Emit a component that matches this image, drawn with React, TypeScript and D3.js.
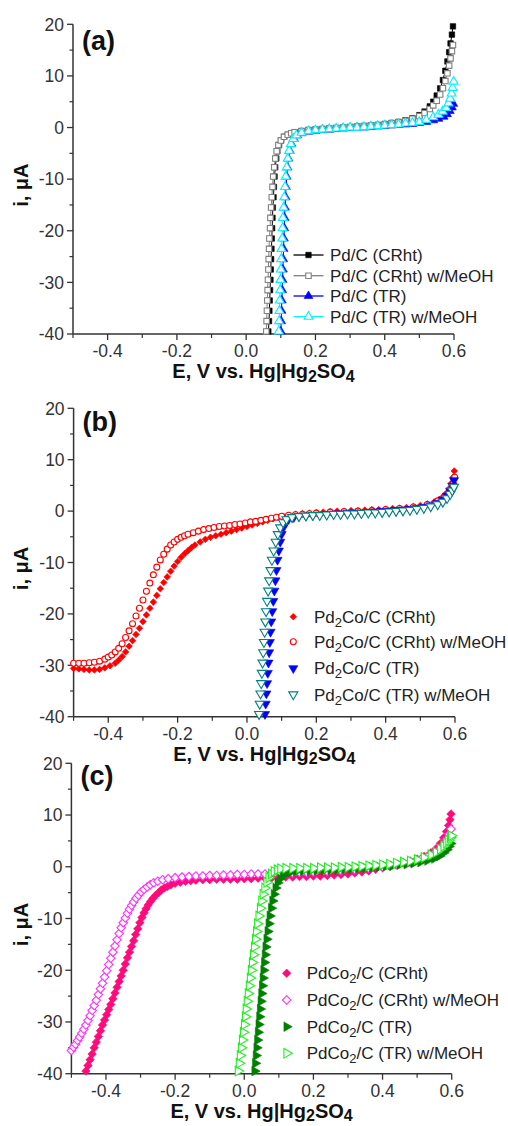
import React from 'react';
import * as d3 from 'd3';

type Pt = [number, number];

// ---------- axis ticks ----------
const xMajorTicks = [-0.4, -0.2, 0.0, 0.2, 0.4, 0.6];
const xTickLabels = ['-0.4', '-0.2', '0.0', '0.2', '0.4', '0.6'];
const xMinorTicks = [-0.5, -0.3, -0.1, 0.1, 0.3, 0.5];
const yMajorTicks = [20, 10, 0, -10, -20, -30, -40];
const yTickLabels = ['20', '10', '0', '-10', '-20', '-30', '-40'];
const yMinorTicks = [15, 5, -5, -15, -25, -35];

// ---------- panel (a) : Pd/C ----------
const pdC_CRht: Pt[] = [[0.064,-39.5],[0.066,-37.5],[0.067,-35.5],[0.068,-33.5],[0.069,-31.5],[0.070,-29.5],[0.071,-27.5],[0.072,-25.5],[0.073,-23.5],[0.074,-21.5],[0.075,-19.5],[0.076,-17.5],[0.077,-15.5],[0.079,-13.5],[0.080,-11.5],[0.082,-9.5],[0.084,-7.7],[0.087,-6.0],[0.090,-4.6],[0.095,-3.4],[0.101,-2.5],[0.110,-1.8],[0.12,-1.4],[0.13,-1.1],[0.14,-0.9],[0.16,-0.7],[0.18,-0.5],[0.20,-0.4],[0.22,-0.3],[0.24,-0.2],[0.26,-0.1],[0.28,0.0],[0.30,0.1],[0.32,0.2],[0.34,0.3],[0.36,0.4],[0.38,0.5],[0.40,0.7],[0.42,0.9],[0.44,1.1],[0.46,1.4],[0.48,1.8],[0.50,2.4],[0.515,3.1],[0.53,4.1],[0.54,5.0],[0.55,6.2],[0.56,7.6],[0.568,9.2],[0.575,11.0],[0.581,12.8],[0.586,14.6],[0.590,16.3],[0.594,18.0],[0.597,19.6]];
const pdC_CRht_MeOH: Pt[] = [[0.058,-39.5],[0.059,-37.5],[0.060,-35.5],[0.061,-33.5],[0.062,-31.5],[0.063,-29.5],[0.064,-27.5],[0.065,-25.5],[0.066,-23.5],[0.067,-21.5],[0.069,-19.5],[0.070,-17.5],[0.072,-15.5],[0.074,-13.5],[0.076,-11.5],[0.078,-9.5],[0.081,-7.7],[0.084,-6.0],[0.088,-4.6],[0.093,-3.4],[0.100,-2.5],[0.109,-1.8],[0.12,-1.4],[0.13,-1.1],[0.14,-0.9],[0.16,-0.7],[0.18,-0.5],[0.20,-0.4],[0.22,-0.3],[0.24,-0.2],[0.26,-0.1],[0.28,0.0],[0.30,0.1],[0.32,0.2],[0.34,0.3],[0.36,0.4],[0.38,0.5],[0.40,0.6],[0.42,0.8],[0.44,1.0],[0.46,1.3],[0.48,1.7],[0.50,2.2],[0.515,2.8],[0.53,3.6],[0.54,4.3],[0.55,5.2],[0.56,6.4],[0.568,7.6],[0.575,9.0],[0.581,10.5],[0.586,12.0],[0.590,13.4],[0.594,14.8],[0.597,16.0]];
const pdC_TR: Pt[] = [[0.100,-39.5],[0.101,-37.5],[0.102,-35.5],[0.103,-33.5],[0.104,-31.5],[0.105,-29.5],[0.106,-27.5],[0.107,-25.5],[0.108,-23.5],[0.109,-21.5],[0.110,-19.5],[0.111,-17.5],[0.112,-15.5],[0.114,-13.5],[0.115,-11.5],[0.117,-9.5],[0.119,-7.7],[0.122,-6.0],[0.126,-4.5],[0.131,-3.2],[0.138,-2.2],[0.147,-1.5],[0.16,-1.1],[0.18,-0.8],[0.20,-0.6],[0.22,-0.5],[0.24,-0.4],[0.26,-0.3],[0.28,-0.2],[0.30,-0.1],[0.32,0.0],[0.34,0.0],[0.36,0.1],[0.38,0.2],[0.40,0.3],[0.42,0.4],[0.44,0.5],[0.46,0.6],[0.48,0.7],[0.50,0.9],[0.52,1.1],[0.54,1.4],[0.555,1.7],[0.57,2.1],[0.58,2.6],[0.588,3.2],[0.594,3.9],[0.598,4.6]];
const pdC_TR_MeOH: Pt[] = [[0.094,-39.5],[0.095,-37.5],[0.096,-35.5],[0.097,-33.5],[0.098,-31.5],[0.099,-29.5],[0.100,-27.5],[0.101,-25.5],[0.102,-23.5],[0.104,-21.5],[0.105,-19.5],[0.106,-17.5],[0.108,-15.5],[0.110,-13.5],[0.112,-11.5],[0.114,-9.5],[0.117,-7.7],[0.120,-6.0],[0.124,-4.5],[0.129,-3.2],[0.136,-2.2],[0.145,-1.5],[0.16,-1.0],[0.18,-0.7],[0.20,-0.5],[0.22,-0.4],[0.24,-0.3],[0.26,-0.2],[0.28,-0.1],[0.30,0.0],[0.32,0.0],[0.34,0.1],[0.36,0.2],[0.38,0.3],[0.40,0.4],[0.42,0.5],[0.44,0.6],[0.46,0.8],[0.48,0.9],[0.50,1.1],[0.52,1.5],[0.54,2.0],[0.555,2.5],[0.567,3.1],[0.577,3.8],[0.584,4.7],[0.589,5.6],[0.593,6.6],[0.596,7.7],[0.599,8.9]];

// ---------- panel (b) : Pd2Co/C ----------
const pd2Co_CRht: Pt[] = [[-0.50,-30.6],[-0.485,-30.7],[-0.47,-30.8],[-0.455,-30.9],[-0.44,-30.9],[-0.425,-30.8],[-0.41,-30.5],[-0.395,-30.1],[-0.38,-29.6],[-0.37,-29.0],[-0.36,-28.3],[-0.35,-27.4],[-0.34,-26.3],[-0.33,-25.2],[-0.32,-24.0],[-0.31,-22.8],[-0.30,-21.5],[-0.29,-20.2],[-0.28,-18.9],[-0.27,-17.7],[-0.26,-16.4],[-0.25,-15.1],[-0.24,-13.9],[-0.23,-12.8],[-0.22,-11.7],[-0.21,-10.7],[-0.20,-9.8],[-0.19,-9.0],[-0.18,-8.3],[-0.17,-7.7],[-0.16,-7.1],[-0.15,-6.6],[-0.135,-6.0],[-0.12,-5.5],[-0.105,-5.1],[-0.09,-4.8],[-0.075,-4.5],[-0.06,-4.2],[-0.045,-3.9],[-0.03,-3.6],[-0.015,-3.3],[0.0,-3.0],[0.015,-2.7],[0.03,-2.4],[0.045,-2.1],[0.06,-1.8],[0.075,-1.5],[0.09,-1.2],[0.105,-1.0],[0.12,-0.8],[0.14,-0.6],[0.16,-0.5],[0.18,-0.4],[0.20,-0.3],[0.22,-0.2],[0.24,-0.1],[0.26,0.0],[0.28,0.0],[0.30,0.1],[0.32,0.1],[0.34,0.2],[0.36,0.3],[0.38,0.3],[0.40,0.4],[0.42,0.5],[0.44,0.6],[0.46,0.7],[0.48,0.9],[0.50,1.1],[0.52,1.4],[0.54,1.8],[0.555,2.3],[0.567,2.9],[0.577,3.6],[0.585,4.5],[0.591,5.5],[0.595,6.6],[0.598,7.8]];
const pd2Co_CRht_MeOH: Pt[] = [[-0.50,-29.6],[-0.485,-29.6],[-0.47,-29.6],[-0.455,-29.5],[-0.44,-29.4],[-0.425,-29.2],[-0.41,-28.8],[-0.40,-28.4],[-0.39,-28.0],[-0.38,-27.4],[-0.37,-26.7],[-0.36,-25.8],[-0.35,-24.6],[-0.34,-23.3],[-0.33,-21.9],[-0.32,-20.4],[-0.31,-18.9],[-0.30,-17.3],[-0.29,-15.6],[-0.28,-14.0],[-0.27,-12.4],[-0.26,-10.9],[-0.25,-9.5],[-0.24,-8.4],[-0.23,-7.4],[-0.22,-6.6],[-0.21,-6.0],[-0.20,-5.5],[-0.19,-5.1],[-0.18,-4.8],[-0.17,-4.5],[-0.155,-4.2],[-0.14,-3.9],[-0.125,-3.6],[-0.11,-3.4],[-0.095,-3.2],[-0.08,-3.0],[-0.065,-2.9],[-0.05,-2.8],[-0.035,-2.6],[-0.02,-2.5],[-0.005,-2.3],[0.01,-2.1],[0.025,-2.0],[0.04,-1.8],[0.055,-1.6],[0.07,-1.4],[0.085,-1.2],[0.10,-1.0],[0.12,-0.8],[0.14,-0.7],[0.16,-0.6],[0.18,-0.5],[0.20,-0.4],[0.24,-0.2],[0.28,-0.1],[0.32,0.0],[0.36,0.1],[0.40,0.3],[0.44,0.5],[0.48,0.8],[0.52,1.3],[0.55,2.0],[0.57,2.8],[0.585,3.9],[0.595,5.3],[0.599,6.6]];
const pd2Co_TR: Pt[] = [[0.052,-39.5],[0.054,-37.5],[0.056,-35.5],[0.058,-33.5],[0.060,-31.5],[0.062,-29.5],[0.064,-27.5],[0.066,-25.5],[0.068,-23.5],[0.070,-21.5],[0.073,-19.5],[0.076,-17.5],[0.079,-15.5],[0.082,-13.5],[0.085,-11.5],[0.088,-9.5],[0.092,-7.7],[0.096,-6.0],[0.100,-4.5],[0.105,-3.2],[0.111,-2.2],[0.12,-1.6],[0.135,-1.2],[0.15,-1.0],[0.17,-0.9],[0.19,-0.8],[0.21,-0.7],[0.23,-0.6],[0.25,-0.5],[0.27,-0.5],[0.29,-0.4],[0.31,-0.3],[0.33,-0.3],[0.35,-0.2],[0.37,-0.1],[0.39,0.0],[0.41,0.1],[0.43,0.2],[0.45,0.3],[0.47,0.4],[0.49,0.6],[0.51,0.8],[0.53,1.1],[0.55,1.6],[0.565,2.2],[0.577,3.0],[0.586,3.9],[0.592,4.9],[0.597,6.0]];
const pd2Co_TR_MeOH: Pt[] = [[0.035,-39.5],[0.037,-37.5],[0.039,-35.5],[0.041,-33.5],[0.043,-31.5],[0.045,-29.5],[0.047,-27.5],[0.049,-25.5],[0.051,-23.5],[0.053,-21.5],[0.055,-19.5],[0.058,-17.5],[0.061,-15.5],[0.064,-13.5],[0.068,-11.5],[0.072,-9.5],[0.077,-7.7],[0.083,-6.0],[0.089,-4.5],[0.096,-3.2],[0.104,-2.2],[0.114,-1.6],[0.13,-1.2],[0.15,-1.0],[0.17,-0.9],[0.19,-0.8],[0.21,-0.8],[0.23,-0.7],[0.25,-0.6],[0.27,-0.6],[0.29,-0.5],[0.31,-0.5],[0.33,-0.4],[0.35,-0.3],[0.37,-0.3],[0.39,-0.2],[0.41,-0.1],[0.43,0.0],[0.45,0.1],[0.47,0.2],[0.49,0.4],[0.51,0.6],[0.53,0.9],[0.55,1.3],[0.565,1.8],[0.577,2.5],[0.586,3.3],[0.592,4.0],[0.597,4.7]];

// ---------- panel (c) : PdCo2/C ----------
const pdCo2_CRht: Pt[] = [[-0.458,-39.5],[-0.452,-38.4],[-0.446,-37.3],[-0.440,-36.2],[-0.434,-35.0],[-0.428,-33.9],[-0.422,-32.8],[-0.416,-31.7],[-0.410,-30.6],[-0.404,-29.6],[-0.398,-28.6],[-0.392,-27.6],[-0.386,-26.6],[-0.380,-25.5],[-0.374,-24.4],[-0.368,-23.3],[-0.362,-22.2],[-0.356,-21.1],[-0.350,-20.0],[-0.344,-18.8],[-0.338,-17.6],[-0.332,-16.5],[-0.326,-15.4],[-0.320,-14.3],[-0.314,-13.1],[-0.308,-12.0],[-0.302,-10.8],[-0.296,-9.8],[-0.290,-8.9],[-0.284,-8.1],[-0.278,-7.4],[-0.271,-6.7],[-0.264,-6.1],[-0.256,-5.5],[-0.248,-5.0],[-0.240,-4.5],[-0.231,-4.1],[-0.222,-3.8],[-0.212,-3.5],[-0.200,-3.2],[-0.185,-3.0],[-0.17,-2.8],[-0.155,-2.7],[-0.14,-2.6],[-0.12,-2.5],[-0.10,-2.5],[-0.08,-2.4],[-0.06,-2.4],[-0.04,-2.4],[-0.02,-2.4],[0.0,-2.3],[0.02,-2.3],[0.04,-2.2],[0.06,-2.2],[0.08,-2.1],[0.10,-2.1],[0.12,-2.0],[0.14,-2.0],[0.16,-1.9],[0.18,-1.9],[0.20,-1.8],[0.22,-1.8],[0.24,-1.7],[0.26,-1.6],[0.28,-1.5],[0.30,-1.4],[0.32,-1.2],[0.34,-1.0],[0.36,-0.8],[0.38,-0.5],[0.40,-0.2],[0.42,0.1],[0.44,0.4],[0.46,0.8],[0.48,1.1],[0.50,1.5],[0.52,2.0],[0.54,2.7],[0.555,3.5],[0.567,4.5],[0.577,5.6],[0.585,6.8],[0.591,8.0],[0.595,9.1],[0.598,10.2]];
const pdCo2_CRht_MeOH: Pt[] = [[-0.500,-35.5],[-0.494,-34.9],[-0.488,-34.3],[-0.482,-33.6],[-0.476,-32.9],[-0.470,-32.2],[-0.464,-31.4],[-0.458,-30.6],[-0.452,-29.7],[-0.446,-28.8],[-0.440,-27.8],[-0.434,-26.8],[-0.428,-25.8],[-0.422,-24.7],[-0.416,-23.6],[-0.410,-22.5],[-0.404,-21.3],[-0.398,-20.1],[-0.392,-18.9],[-0.386,-17.7],[-0.380,-16.5],[-0.374,-15.3],[-0.368,-14.1],[-0.362,-12.9],[-0.356,-11.8],[-0.350,-10.8],[-0.344,-9.9],[-0.338,-9.0],[-0.332,-8.2],[-0.326,-7.5],[-0.320,-6.8],[-0.313,-6.1],[-0.306,-5.5],[-0.298,-4.9],[-0.290,-4.4],[-0.281,-3.9],[-0.272,-3.5],[-0.262,-3.1],[-0.250,-2.8],[-0.236,-2.5],[-0.220,-2.3],[-0.20,-2.1],[-0.18,-2.0],[-0.16,-1.9],[-0.14,-1.8],[-0.12,-1.8],[-0.10,-1.7],[-0.08,-1.7],[-0.06,-1.6],[-0.04,-1.6],[-0.02,-1.5],[0.0,-1.5],[0.02,-1.4],[0.04,-1.4],[0.06,-1.4],[0.08,-1.3],[0.10,-1.3],[0.12,-1.2],[0.14,-1.2],[0.16,-1.1],[0.18,-1.1],[0.20,-1.0],[0.24,-0.9],[0.28,-0.8],[0.32,-0.6],[0.36,-0.3],[0.40,0.0],[0.44,0.4],[0.48,0.9],[0.51,1.4],[0.53,1.9],[0.55,2.6],[0.565,3.4],[0.577,4.3],[0.586,5.3],[0.593,6.3],[0.598,7.3]];
const pdCo2_TR: Pt[] = [[0.030,-39.5],[0.032,-38.0],[0.034,-36.5],[0.036,-35.0],[0.038,-33.5],[0.040,-32.0],[0.042,-30.5],[0.044,-29.0],[0.046,-27.5],[0.048,-26.0],[0.050,-24.5],[0.052,-23.0],[0.054,-21.5],[0.056,-20.0],[0.058,-18.5],[0.060,-17.0],[0.062,-15.5],[0.065,-14.0],[0.068,-12.5],[0.071,-11.0],[0.074,-9.5],[0.078,-8.0],[0.082,-6.6],[0.086,-5.3],[0.091,-4.1],[0.097,-3.1],[0.104,-2.3],[0.112,-1.7],[0.122,-1.3],[0.135,-1.0],[0.15,-0.9],[0.17,-0.8],[0.19,-0.8],[0.21,-0.7],[0.23,-0.7],[0.25,-0.6],[0.27,-0.6],[0.29,-0.5],[0.31,-0.4],[0.33,-0.3],[0.35,-0.2],[0.37,-0.1],[0.39,0.0],[0.41,0.1],[0.43,0.2],[0.45,0.4],[0.47,0.5],[0.49,0.7],[0.51,0.9],[0.53,1.2],[0.55,1.6],[0.565,2.1],[0.577,2.7],[0.586,3.3],[0.592,3.9],[0.597,4.5]];
const pdCo2_TR_MeOH: Pt[] = [[-0.018,-39.5],[-0.015,-38.0],[-0.012,-36.5],[-0.009,-35.0],[-0.006,-33.5],[-0.003,-32.0],[0.000,-30.5],[0.003,-29.0],[0.005,-27.5],[0.008,-26.0],[0.011,-24.5],[0.014,-23.0],[0.017,-21.5],[0.020,-20.0],[0.023,-18.5],[0.026,-17.0],[0.029,-15.5],[0.032,-14.0],[0.035,-12.5],[0.038,-11.0],[0.042,-9.5],[0.046,-8.0],[0.050,-6.6],[0.054,-5.3],[0.059,-4.1],[0.065,-3.0],[0.071,-2.1],[0.078,-1.4],[0.086,-0.9],[0.095,-0.6],[0.105,-0.4],[0.12,-0.3],[0.14,-0.3],[0.16,-0.3],[0.18,-0.3],[0.20,-0.3],[0.22,-0.2],[0.24,-0.2],[0.26,-0.2],[0.28,-0.1],[0.30,-0.1],[0.32,0.0],[0.34,0.1],[0.36,0.2],[0.38,0.3],[0.40,0.4],[0.42,0.5],[0.44,0.7],[0.46,0.9],[0.48,1.1],[0.50,1.4],[0.52,1.8],[0.54,2.3],[0.555,2.8],[0.567,3.4],[0.577,4.0],[0.585,4.6],[0.591,5.1],[0.596,5.6],[0.599,6.0]];

// ---------- legend labels ----------
const legendA = ['Pd/C (CRht)', 'Pd/C (CRht) w/MeOH', 'Pd/C (TR)', 'Pd/C (TR) w/MeOH'];
const legendB = [['Pd', '2', 'Co/C (CRht)'], ['Pd', '2', 'Co/C (CRht) w/MeOH'], ['Pd', '2', 'Co/C (TR)'], ['Pd', '2', 'Co/C (TR) w/MeOH']];
const legendC = [['PdCo', '2', '/C (CRht)'], ['PdCo', '2', '/C (CRht) w/MeOH'], ['PdCo', '2', '/C (TR)'], ['PdCo', '2', '/C (TR) w/MeOH']];

const FONT = '"Liberation Sans", Arial, Helvetica, sans-serif';
const AXIS = '#333333';

type Shape = 'square' | 'triUp' | 'triDown' | 'triRight' | 'diamond' | 'circle';
interface Series { data: Pt[]; color: string; shape: Shape; filled: boolean; size: number; line: boolean; label: string[] }

function symbolPath(shape: Shape, size: number): string {
  const t = shape === 'circle' ? d3.symbolCircle : (shape === 'square' || shape === 'diamond') ? d3.symbolSquare : d3.symbolTriangle;
  return d3.symbol().type(t).size(size)() as string;
}
function rot(shape: Shape): number {
  return shape === 'diamond' ? 45 : shape === 'triDown' ? 180 : shape === 'triRight' ? 90 : 0;
}

function Marker({ s, x, y }: { s: Series; x: number; y: number }) {
  return (
    <path
      d={symbolPath(s.shape, s.size)}
      transform={`translate(${x},${y}) rotate(${rot(s.shape)})`}
      fill={s.filled ? s.color : '#ffffff'}
      stroke={s.color}
      strokeWidth={s.filled ? 0.6 : 1.1}
    />
  );
}

interface PanelCfg {
  left: number; right: number; top: number; bottom: number;
  letter: string; letterY: number;
  series: Series[];
  legX: number; legY: number[]; legTextX: number; legLine: boolean;
}

function Panel({ cfg }: { cfg: PanelCfg }) {
  const x = d3.scaleLinear().domain([-0.5, 0.6]).range([cfg.left, cfg.right]);
  const y = d3.scaleLinear().domain([-40, 20]).range([cfg.bottom, cfg.top]);
  const line = d3.line<Pt>().x(d => x(d[0])).y(d => y(d[1]));
  const cx = (cfg.left + cfg.right) / 2;
  const cy = (cfg.top + cfg.bottom) / 2;
  return (
    <g>
      {/* axes */}
      <line x1={cfg.left} x2={cfg.left} y1={cfg.top} y2={cfg.bottom} stroke={AXIS} strokeWidth={1.5} />
      <line x1={cfg.left} x2={cfg.right} y1={cfg.bottom} y2={cfg.bottom} stroke={AXIS} strokeWidth={1.5} />
      {yMajorTicks.map((t, i) => (
        <g key={'ym' + t}>
          <line x1={cfg.left - 6} x2={cfg.left} y1={y(t)} y2={y(t)} stroke={AXIS} strokeWidth={1.3} />
          <text x={cfg.left - 9} y={y(t)} dy="0.36em" textAnchor="end" fontSize={17.5} fill={AXIS} fontFamily={FONT}>{yTickLabels[i]}</text>
        </g>
      ))}
      {yMinorTicks.map(t => (
        <line key={'yn' + t} x1={cfg.left - 3.5} x2={cfg.left} y1={y(t)} y2={y(t)} stroke={AXIS} strokeWidth={1.2} />
      ))}
      {xMajorTicks.map((t, i) => (
        <g key={'xm' + t}>
          <line x1={x(t)} x2={x(t)} y1={cfg.bottom} y2={cfg.bottom + 6} stroke={AXIS} strokeWidth={1.3} />
          <text x={x(t)} y={cfg.bottom + 23} textAnchor="middle" fontSize={17.5} fill={AXIS} fontFamily={FONT}>{xTickLabels[i]}</text>
        </g>
      ))}
      {xMinorTicks.map(t => (
        <line key={'xn' + t} x1={x(t)} x2={x(t)} y1={cfg.bottom} y2={cfg.bottom + 4} stroke={AXIS} strokeWidth={1.2} />
      ))}
      {/* axis titles */}
      <text x={cx} y={cfg.bottom + 44} textAnchor="middle" fontSize={20} fontWeight="bold" fill="#111" fontFamily={FONT}>
        <tspan>E, V vs. Hg|Hg</tspan>
        <tspan fontSize={16} dy={3.5}>2</tspan>
        <tspan dy={-3.5}>SO</tspan>
        <tspan fontSize={16} dy={3.5}>4</tspan>
      </text>
      <text transform={`translate(28,${cy + 6}) rotate(-90)`} textAnchor="middle" fontSize={20} fontWeight="bold" fill="#111" fontFamily={FONT}>i, μA</text>
      <text x={cfg.left + 9} y={cfg.letterY} fontSize={27} fontWeight="bold" fill="#111" fontFamily={FONT}>{cfg.letter}</text>
      {/* series */}
      {cfg.series.map((s, si) => (
        <g key={'s' + si}>
          {s.line && <path d={line(s.data) as string} fill="none" stroke={s.color} strokeWidth={1} />}
          {s.data.map((d, i) => <Marker key={i} s={s} x={x(d[0])} y={y(d[1])} />)}
        </g>
      ))}
      {/* legend */}
      {cfg.series.map((s, si) => (
        <g key={'l' + si}>
          {cfg.legLine && <line x1={cfg.legX - 15} x2={cfg.legX + 15} y1={cfg.legY[si]} y2={cfg.legY[si]} stroke={s.color} strokeWidth={1.3} />}
          <Marker s={s} x={cfg.legX} y={cfg.legY[si]} />
          <text x={cfg.legTextX} y={cfg.legY[si] + 6} fontSize={17} fill="#222" fontFamily={FONT}>
            {s.label.length === 1 ? s.label[0] : (
              <>
                <tspan>{s.label[0]}</tspan>
                <tspan fontSize={13} dy={4}>{s.label[1]}</tspan>
                <tspan dy={-4}>{s.label[2]}</tspan>
              </>
            )}
          </text>
        </g>
      ))}
    </g>
  );
}

const panels: PanelCfg[] = [
  {
    left: 73, right: 454, top: 24.3, bottom: 334, letter: '(a)', letterY: 50,
    series: [
      { data: pdC_CRht, color: '#000000', shape: 'square', filled: true, size: 30, line: true, label: [legendA[0]] },
      { data: pdC_CRht_MeOH, color: '#808080', shape: 'square', filled: false, size: 30, line: true, label: [legendA[1]] },
      { data: pdC_TR, color: '#0000ff', shape: 'triUp', filled: true, size: 34, line: true, label: [legendA[2]] },
      { data: pdC_TR_MeOH, color: '#00f0ff', shape: 'triUp', filled: false, size: 34, line: true, label: [legendA[3]] },
    ],
    legX: 308.5, legY: [255, 275.7, 296, 316.7], legTextX: 330, legLine: true,
  },
  {
    left: 73.6, right: 455, top: 408.3, bottom: 716.7, letter: '(b)', letterY: 431,
    series: [
      { data: pd2Co_CRht, color: '#ff0000', shape: 'diamond', filled: true, size: 22, line: false, label: legendB[0] },
      { data: pd2Co_CRht_MeOH, color: '#ff0000', shape: 'circle', filled: false, size: 28, line: false, label: legendB[1] },
      { data: pd2Co_TR, color: '#0000ff', shape: 'triDown', filled: true, size: 36, line: false, label: legendB[2] },
      { data: pd2Co_TR_MeOH, color: '#008080', shape: 'triDown', filled: false, size: 36, line: false, label: legendB[3] },
    ],
    legX: 293.3, legY: [616.7, 641.7, 668.3, 694.5], legTextX: 314, legLine: false,
  },
  {
    left: 71.4, right: 451.7, top: 763.3, bottom: 1073.7, letter: '(c)', letterY: 785,
    series: [
      { data: pdCo2_CRht, color: '#ff0a7a', shape: 'diamond', filled: true, size: 36, line: false, label: legendC[0] },
      { data: pdCo2_CRht_MeOH, color: '#ff30ff', shape: 'diamond', filled: false, size: 36, line: false, label: legendC[1] },
      { data: pdCo2_TR, color: '#008000', shape: 'triRight', filled: true, size: 40, line: false, label: legendC[2] },
      { data: pdCo2_TR_MeOH, color: '#22ee22', shape: 'triRight', filled: false, size: 40, line: false, label: legendC[3] },
    ],
    legX: 286.7, legY: [973.3, 1000, 1026.7, 1053.3], legTextX: 306.7, legLine: false,
  },
];

export default function App() {
  return (
    <svg width={508} height={1126} style={{ position: 'absolute', left: 0, top: 0, background: '#fff' }}>
      <rect x={0} y={0} width={508} height={1126} fill="#ffffff" />
      {panels.map((p, i) => <Panel key={i} cfg={p} />)}
    </svg>
  );
}
